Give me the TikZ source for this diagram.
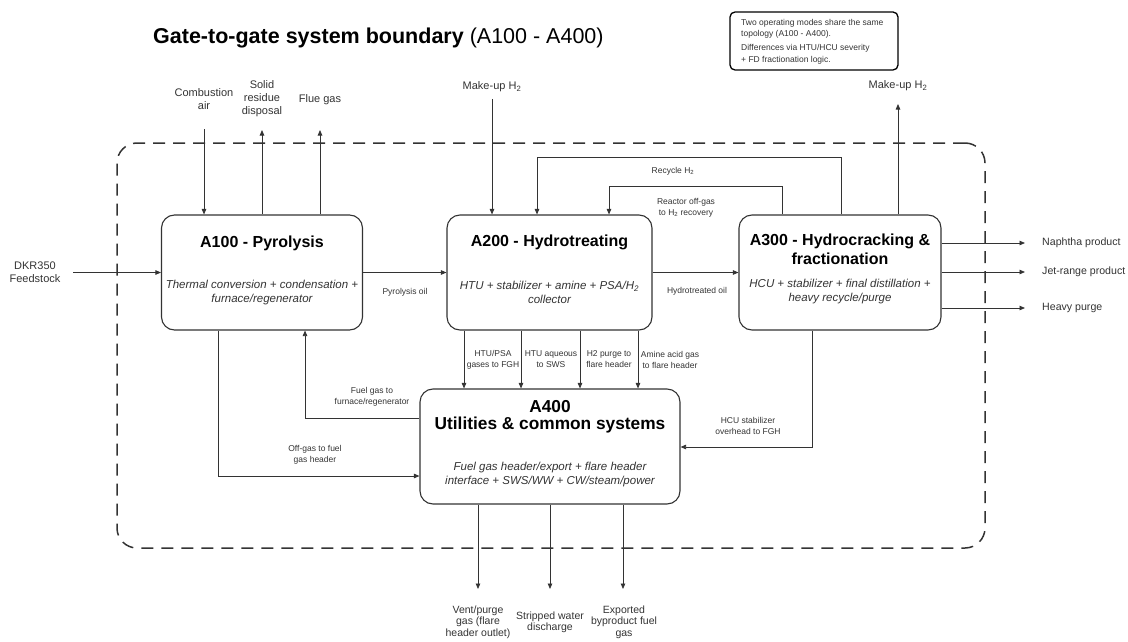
\documentclass[tikz,border=0pt]{standalone}
\usepackage{fontspec}
\setmainfont{Liberation Sans}
\usetikzlibrary{arrows.meta}
\definecolor{ln}{HTML}{333333}
\begin{document}
\begin{tikzpicture}[x=1pt,y=-1pt,
  procbox/.style={draw=ln, line width=1.1pt, rounded corners=13pt, inner sep=0pt, fill=white, minimum height=115pt},
  ttl/.style={font=\fontsize{16}{19}\selectfont\bfseries, align=center, inner sep=0pt},
  subt/.style={font=\fontsize{11.5}{14}\selectfont\itshape, align=center, inner sep=0pt, text=ln},
  flow/.style={draw=ln, line width=0.8pt, -{Triangle[length=5.5pt,width=4.5pt]}},
  lbl/.style={font=\fontsize{8.5}{11}\selectfont, align=center, inner sep=0pt, text=ln},
  ext/.style={font=\fontsize{11}{13}\selectfont, align=center, inner sep=0pt, text=ln},
  extr/.style={font=\fontsize{10.6}{13}\selectfont, inner sep=0pt, text=ln, anchor=west},
  extb/.style={font=\fontsize{10.5}{11.5}\selectfont, align=center, inner sep=0pt, text=ln},
  bound/.style={draw=ln, line width=1.5pt, dash pattern=on 12pt off 8pt, rounded corners=20pt, inner sep=0pt}
]
\useasboundingbox (0,0) rectangle (1128,642);

% title
\node[anchor=base west, inner sep=0pt, font=\fontsize{21.5}{25}\selectfont] (title) at (153,43.5)
  {\bfseries Gate-to-gate system boundary\mdseries{} (A100 - A400)};

% note
\node[draw=black, line width=1.3pt, rounded corners=5pt, minimum width=168pt, minimum height=58pt, inner sep=0pt] (note) at (814,41) {};
\node[anchor=west, inner sep=0pt, align=left, font=\fontsize{8.5}{11.5}\selectfont, text=ln] (notetxt) at (741,41.5)
  {Two operating modes share the same\\topology (A100 - A400).\\[2.5pt]Differences via HTU/HCU severity\\+ FD fractionation logic.};

% boundary
\node[bound, minimum width=868pt, minimum height=405pt] (boundary) at (551,345.5) {};

% process boxes
\node[procbox, minimum width=201pt] (A100) at (262,272.5) {};
\node[procbox, minimum width=205pt] (A200) at (549.5,272.5) {};
\node[procbox, minimum width=202pt] (A300) at (840,272.5) {};
\node[procbox, minimum width=260pt] (A400) at (550,446.5) {};

\node[ttl] (t1) at (262,243) {A100 - Pyrolysis};
\node[subt] (s1) at (262,292.5) {Thermal conversion + condensation +\\furnace/regenerator};
\node[ttl] (t2) at (549.5,242) {A200 - Hydrotreating};
\node[subt] (s2) at (549.5,292.5) {HTU + stabilizer + amine + PSA/H\textsubscript{2}\\collector};
\node[ttl] (t3) at (840,249.5) {A300 - Hydrocracking \&\\fractionation};
\node[subt] (s3) at (840,292) {HCU + stabilizer + final distillation +\\heavy recycle/purge};
\node[ttl, font=\fontsize{17.3}{17}\selectfont\bfseries] (t4) at (550,417) {A400\\Utilities \& common systems};
\node[subt] (s4) at (550,475) {Fuel gas header/export + flare header\\interface + SWS/WW + CW/steam/power};

% feedstock
\node[ext] (feed) at (35,272) {DKR350\\Feedstock};
\coordinate (feedS) at (73,272.5);
\draw[flow] (feedS) -- (A100.west);

% main line
\draw[flow] (A100.east) -- (A200.west);
\node[lbl] (lpo) at (405,292) {Pyrolysis oil};
\draw[flow] (A200.east) -- (A300.west);
\node[lbl] (lho) at (697,291) {Hydrotreated oil};

% A100 top
\node[ext] (comb) at (204,99.5) {Combustion\\air};
\coordinate (combS) at (204,129);
\draw[flow] (combS) -- (204,0 |- A100.north);
\node[ext] (solid) at (262,98.5) {Solid\\residue\\disposal};
\coordinate (solidE) at (262,130);
\draw[flow] (262,0 |- A100.north) -- (solidE);
\node[ext] (flue) at (320,100) {Flue gas};
\coordinate (flueE) at (320,130);
\draw[flow] (320,0 |- A100.north) -- (flueE);

% make-up H2 in
\node[ext] (mu1) at (492,87) {Make-up H\textsubscript{2}};
\coordinate (mu1S) at (492,99);
\draw[flow] (mu1S) -- (492,0 |- A200.north);

% recycle
\draw[flow] (841,0 |- A300.north) |- (537,157) -- (537,0 |- A200.north);
\node[lbl] (lrec) at (673,171) {Recycle H\textsubscript{2}};
\draw[flow] (782,0 |- A300.north) |- (609,186) -- (609,0 |- A200.north);
\node[lbl] (loff) at (686,207.5) {Reactor off-gas\\to H\textsubscript{2} recovery};

% make-up H2 out
\node[ext] (mu2) at (898,86) {Make-up H\textsubscript{2}};
\coordinate (mu2E) at (898,104);
\draw[flow] (898,0 |- A300.north) -- (mu2E);

% products
\node[extr] (naph) at (1042,243) {Naphtha product};
\node[extr] (jet) at (1042,272) {Jet-range product};
\node[extr] (heavy) at (1042,308) {Heavy purge};
\draw[flow] (A300.east |- naph) -- ([xshift=-17pt]naph.west);
\draw[flow] (A300.east |- jet) -- ([xshift=-17pt]jet.west);
\draw[flow] (A300.east |- heavy) -- ([xshift=-17pt]heavy.west);

% A200 -> A400
\draw[flow] (464,0 |- A200.south) -- (464,0 |- A400.north);
\draw[flow] (521,0 |- A200.south) -- (521,0 |- A400.north);
\draw[flow] (580,0 |- A200.south) -- (580,0 |- A400.north);
\draw[flow] (638,0 |- A200.south) -- (638,0 |- A400.north);
\node[lbl] (l1) at (493,359.5) {HTU/PSA\\gases to FGH};
\node[lbl] (l2) at (551,359.5) {HTU aqueous\\to SWS};
\node[lbl] (l3) at (609,359.5) {H2 purge to\\flare header};
\node[lbl] (l4) at (670,359.5) {Amine acid gas\\to flare header};

% fuel gas to furnace
\draw[flow] (A400.west |- 0,418) -| (305,0 |- A100.south);
\node[lbl] (lfg) at (372,396.5) {Fuel gas to\\furnace/regenerator};

% off-gas
\draw[flow] (218,0 |- A100.south) |- (A400.west |- 0,476);
\node[lbl] (log) at (315,454.5) {Off-gas to fuel\\gas header};

% HCU stabilizer
\draw[flow] (812,0 |- A300.south) |- (A400.east |- 0,447);
\node[lbl] (lhcu) at (748,425.5) {HCU stabilizer\\overhead to FGH};

% bottom outputs
\coordinate (b1) at (478,589);
\coordinate (b2) at (550,589);
\coordinate (b3) at (623,589);
\draw[flow] (478,0 |- A400.south) -- (b1);
\draw[flow] (550,0 |- A400.south) -- (b2);
\draw[flow] (623,0 |- A400.south) -- (b3);
\node[extb] (o1) at (478,622) {Vent/purge\\gas (flare\\header outlet)};
\node[extb] (o2) at (550,622.5) {Stripped water\\discharge};
\node[extb] (o3) at (624,622) {Exported\\byproduct fuel\\gas};
\end{tikzpicture}
\end{document}
